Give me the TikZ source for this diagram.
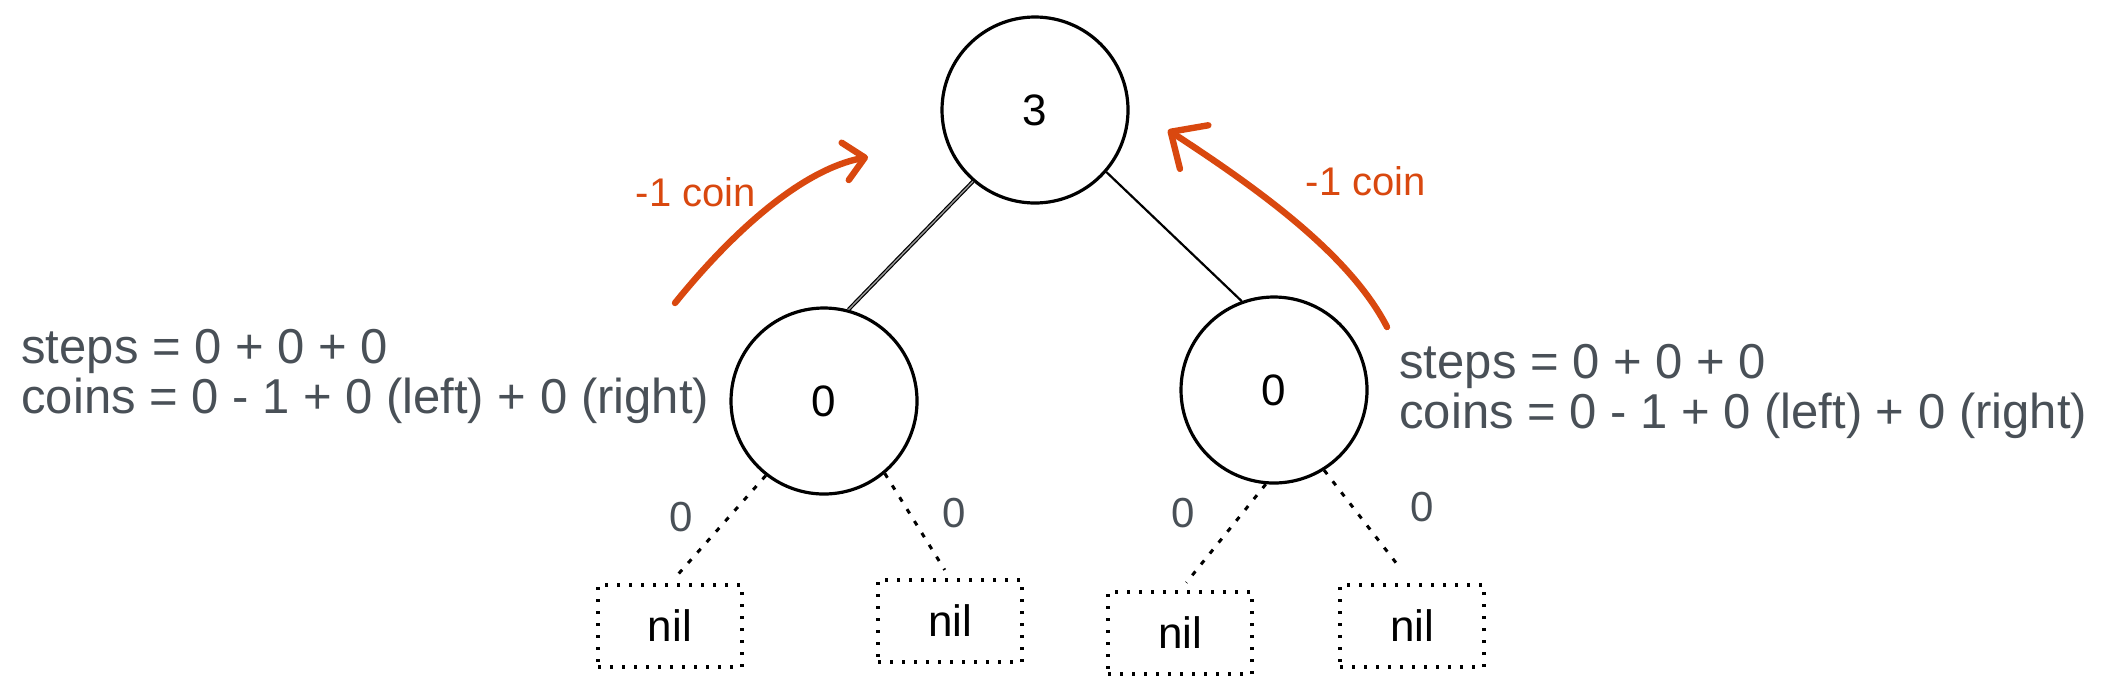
\documentclass[tikz,border=0pt]{standalone}
\usepackage{fontspec}
\setmainfont{Liberation Sans}
\usetikzlibrary{arrows.meta}
\definecolor{orng}{RGB}{217,72,15}
\definecolor{txtgray}{RGB}{73,80,87}
\begin{document}
\begin{tikzpicture}[x=0.5pt,y=-0.5pt,
  treenode/.style={circle,draw=black,line width=1.6pt,minimum size=93pt,inner sep=0pt,font=\fontsize{22}{26}\selectfont},
  nilbox/.style={draw=black,line width=1.6pt,dash pattern=on 1.5pt off 4.5pt,minimum width=72pt,minimum height=41pt,inner sep=0pt,font=\fontsize{22}{26}\selectfont},
  edge/.style={draw=black,line width=1.1pt},
  dotedge/.style={draw=black,line width=1.5pt,dash pattern=on 2.5pt off 4.5pt},
  graytext/.style={text=txtgray,inner sep=0pt,anchor=base west,font=\fontsize{24.5}{28}\selectfont},
  zerolabel/.style={text=txtgray,inner sep=0pt,font=\fontsize{21}{24}\selectfont},
  coinlabel/.style={text=orng,inner sep=0pt,font=\fontsize{20}{24}\selectfont},
  coinarrow/.style={draw=orng,line width=3.2pt,line cap=round,line join=round}
]
\fill[white] (0,0) rectangle (2118,692);
\useasboundingbox (0,0) rectangle (2118,692);

% tree nodes
\node[treenode] (root) at (1035,110) {3};
\node[treenode] (L) at (824,401) {0};
\node[treenode] (R) at (1274,390) {0};

% nil boxes
\node[nilbox] (b1) at (670,626) {nil};
\node[nilbox] (b2) at (950,621) {nil};
\node[nilbox] (b3) at (1180,633) {nil};
\node[nilbox] (b4) at (1412,626) {nil};

% edges
\draw[edge,double=white!60!black,double distance=0.7pt,line width=0.6pt] (root.229) -- (L.75);
\draw[edge] (root.-41) -- (R.110);
\draw[dotedge,shorten >=4pt] (L.232) -- (b1.north);
\draw[dotedge,shorten >=5pt] (L.-50) -- (b2.north);
\draw[dotedge,shorten >=5pt] (R.265) -- (b3.north);
\draw[dotedge,shorten >=9pt] (R.-58) -- (b4.north);

% zero labels
\node[zerolabel] (z1) at (681,517) {0};
\node[zerolabel] (z2) at (954,513) {0};
\node[zerolabel] (z3) at (1183,513) {0};
\node[zerolabel] (z4) at (1422,507) {0};

% text blocks
\node[graytext] (lsteps) at (21,363) {steps = 0 + 0 + 0};
\node[graytext] (lcoins) at (21,413) {coins = 0 - 1 + 0 (left) + 0 (right)};
\node[graytext] (rsteps) at (1399,378) {steps = 0 + 0 + 0};
\node[graytext] (rcoins) at (1399,428) {coins = 0 - 1 + 0 (left) + 0 (right)};

% orange arrows
\coordinate (la0) at (675,303);
\coordinate (la1) at (868,157);
\coordinate (ra0) at (1387,327);
\coordinate (ra1) at (1168,130);
\draw[coinarrow,-{Straight Barb[length=10pt,width=19pt,line cap=round,line join=round]}]
  (la0) .. controls (730,235) and (800,170) .. (la1);
\draw[coinarrow,-{Straight Barb[length=14pt,width=26pt,line cap=round,line join=round]}]
  (ra0) .. controls (1350,255) and (1260,190) .. (ra1);
\node[coinlabel] (lc) at (696,192) {-1 coin};
\node[coinlabel] (rc) at (1366,181) {-1 coin};
\end{tikzpicture}
\end{document}
